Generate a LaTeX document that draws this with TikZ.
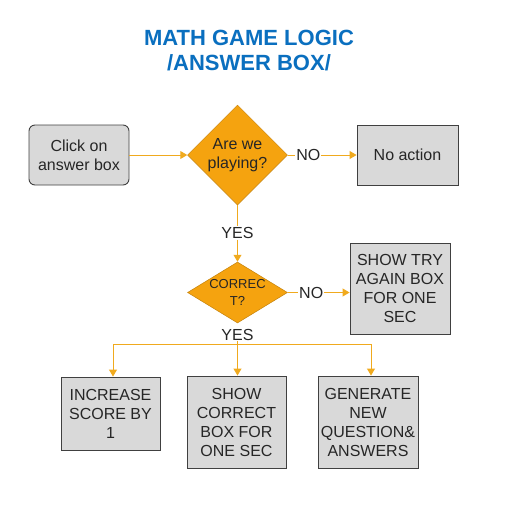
\documentclass[tikz,border=0pt]{standalone}
\usepackage{fontspec}
\setmainfont{Liberation Sans}
\usetikzlibrary{shapes.geometric,arrows.meta}
\definecolor{orng}{HTML}{F5A30F}
\definecolor{orngline}{HTML}{F0AA1E}
\definecolor{boxgray}{HTML}{D9D9D9}
\definecolor{boxedge}{HTML}{404040}
\definecolor{titleblue}{HTML}{0A6FBF}
\tikzset{
  procbox/.style={draw=boxedge, fill=boxgray, line width=0.9pt, inner sep=0pt, align=center,
    font=\fontsize{16}{19}\selectfont, text=black!85},
  decision/.style={diamond, draw=orng!80!black, fill=orng, line width=0.5pt, inner sep=0pt},
  dtext/.style={align=center, inner sep=0pt, text=black!85},
  lbl/.style={fill=white, inner sep=1pt, font=\fontsize{16}{19}\selectfont, text=black!85},
  flow/.style={draw=orngline, line width=1pt},
  arr/.style={flow, -{Triangle[width=8pt,length=7pt]}},
}
\begin{document}
\begin{tikzpicture}[x=1pt,y=-1pt]
\useasboundingbox (0,0) rectangle (520,507);
% title
\node[text=titleblue, font=\fontsize{22}{25}\bfseries, align=center] (title) at (249,50.5) {MATH GAME LOGIC\\/ANSWER BOX/};
% nodes
\node[procbox, rounded corners=6pt, minimum width=100pt, minimum height=60pt] (click) at (79,155) {Click on\\answer box};
\node[decision, minimum width=100pt, minimum height=100pt] (d1) at (237.5,155) {};
\node[dtext, font=\fontsize{16}{19}\selectfont] (d1t) at (237.5,155) {Are we\\playing?};
\node[procbox, minimum width=101pt, minimum height=60pt] (noact) at (407.5,155) {No action};
\node[lbl] (yes1) at (237.5,233) {YES};
\node[decision, minimum width=100pt, minimum height=61pt] (d2) at (237.5,292.5) {};
\node[dtext, font=\fontsize{13}{16.5}\selectfont] (d2t) at (237.5,292.5) {CORREC\\T?};
\node[procbox, minimum width=100pt, minimum height=91pt] (tryagain) at (400,288.5) {SHOW TRY\\AGAIN BOX\\FOR ONE\\SEC};
\node[lbl, inner sep=0.5pt] (yes2) at (237.5,334.5) {YES};
\coordinate (junc) at (237.5,344);
\coordinate (j1) at (113,344);
\coordinate (j3) at (371,344);
\node[procbox, minimum width=99pt, minimum height=73pt] (inc) at (110.5,413.5) {INCREASE\\SCORE BY\\1};
\node[procbox, minimum width=99pt, minimum height=92pt] (showc) at (236.5,422) {SHOW\\CORRECT\\BOX FOR\\ONE SEC};
\node[procbox, minimum width=100pt, minimum height=92pt] (gen) at (368,422) {GENERATE\\NEW\\QUESTION\&\\ANSWERS};
% connectors
\draw[arr] (click.east) -- (d1.west);
\draw[arr] (d1.east) -- node[lbl, pos=0.3] (no1) {NO} (noact.west);
\draw[flow] (d1.south) -- (yes1.north);
\draw[arr] (yes1.south) -- (d2.north);
\draw[arr] (d2.east) -- node[lbl, pos=0.38] (no2) {NO} (d2.east -| tryagain.west);
\draw[flow] (yes2.south) -- (junc);
\draw[flow] (j1) -- (j3);
\draw[arr] (j1) -- (j1 |- inc.north);
\draw[arr] (junc) -- (junc |- showc.north);
\draw[arr] (j3) -- (j3 |- gen.north);
\end{tikzpicture}
\end{document}
